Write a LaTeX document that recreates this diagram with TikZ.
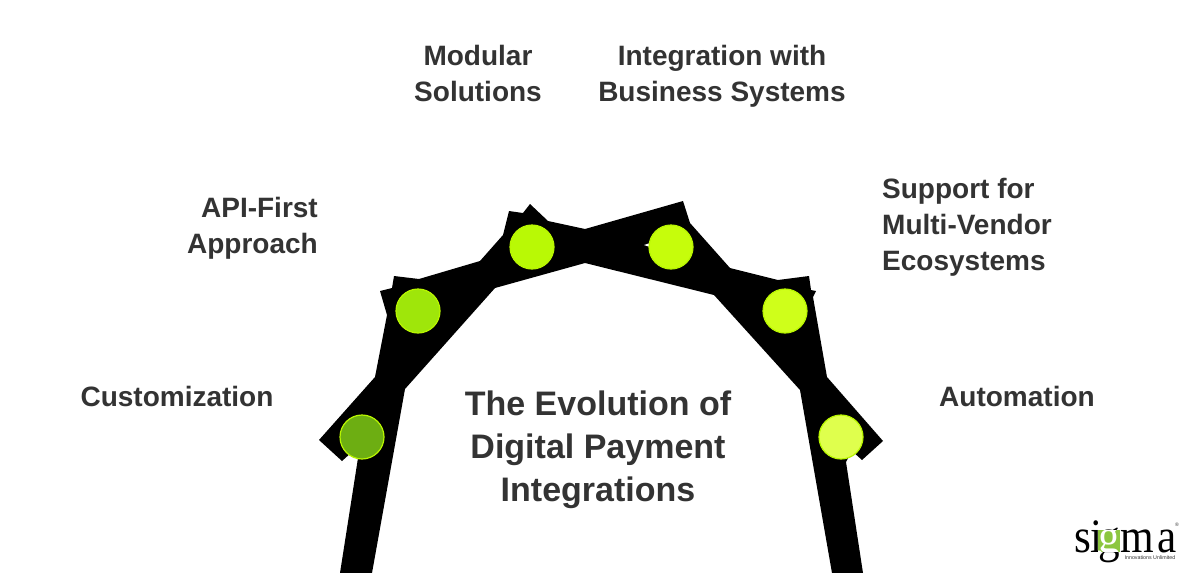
\documentclass[tikz,border=0pt]{standalone}
\usepackage{fontspec}
\setmainfont{Liberation Sans}
\newfontfamily\logofont{Liberation Serif}
\definecolor{labelgrey}{HTML}{333333}
\definecolor{ringlime}{HTML}{B8F500}
\definecolor{logogreen}{HTML}{8CC63F}
\tikzset{
  labeltext/.style={text=labelgrey,font=\fontsize{28}{36}\selectfont\bfseries,inner sep=0pt},
  titletext/.style={text=labelgrey,font=\fontsize{34}{43}\selectfont\bfseries,inner sep=0pt,align=center},
  lamp/.style={circle,minimum size=44pt,inner sep=0pt,draw=ringlime,line width=1.2pt}
}
\begin{document}
\begin{tikzpicture}[x=1pt,y=-1pt]
\useasboundingbox (0,0) rectangle (1200,573);
\fill[white] (0,0) rectangle (1200,573);
% arch
\fill[black] (340,573) -- (358,458) -- (352,452) -- (342,461) -- (319,440) -- (375,377) -- (387,315) -- (380,291) -- (392,288) -- (394,276) -- (419,279) -- (480,261) -- (503,235) -- (509,211) -- (523,213) -- (530,204) -- (548,221) -- (585,229) -- (683,201) -- (690,223) -- (730,268) -- (778,280) -- (809,276) -- (811,290) -- (816,291) -- (813,297) -- (827,377) -- (883,441) -- (862,460) -- (852,451) -- (846,462) -- (863,573) -- (832,573) -- (800,390) -- (714,295) -- (585,263) -- (495,288) -- (405,389) -- (372,573) -- cycle;
\fill[white] (644,245) -- (650,243) -- (650,247) -- cycle;
% lamps
\node[lamp,fill={rgb,255:red,109;green,174;blue,18}] (l1) at (362,437) {};
\node[lamp,fill={rgb,255:red,159;green,230;blue,10}] (l2) at (418,311) {};
\node[lamp,fill={rgb,255:red,185;green,249;blue,5}] (l3) at (532,247) {};
\node[lamp,fill={rgb,255:red,198;green,253;blue,11}] (l4) at (671,247) {};
\node[lamp,fill={rgb,255:red,207;green,255;blue,26}] (l5) at (785,311) {};
\node[lamp,fill={rgb,255:red,223;green,255;blue,77}] (l6) at (841,437) {};
% labels
\node[labeltext,align=center] (t3) at (478,73) {Modular\\Solutions};
\node[labeltext,align=center] (t4) at (722,76) {Integration with\\Business Systems};
\node[labeltext,align=right,anchor=east] (t2) at (318,228) {API-First\\Approach};
\node[labeltext,align=left,anchor=west] (t5) at (882,227) {Support for\\Multi-Vendor\\Ecosystems};
\node[labeltext] (t1) at (177,396) {Customization};
\node[labeltext] (t6) at (1017,396) {Automation};
\node[titletext] (title) at (598,450) {The Evolution of\\Digital Payment\\Integrations};
% logo
\node[anchor=base west,inner sep=0pt,xscale=0.9,transform shape,font=\fontsize{48}{48}\selectfont\logofont,text=black] (logo) at (1074,552) {s\kern-1pt i\kern-3.5pt g\kern0pt m\kern4pt a};
\fill[white,blend mode=difference] (1098,530) rectangle (1120,552);
\fill[logogreen,blend mode=screen] (1098,530) rectangle (1120,552);
\node[anchor=center,inner sep=0pt,font=\fontsize{5.3}{5.3}\selectfont,text=labelgrey] (logosub) at (1150,557.5) {Innovations Unlimited};
\node[inner sep=0pt,font=\fontsize{5}{5}\selectfont,text=labelgrey] (logoreg) at (1177,525) {®};
\end{tikzpicture}
\end{document}
